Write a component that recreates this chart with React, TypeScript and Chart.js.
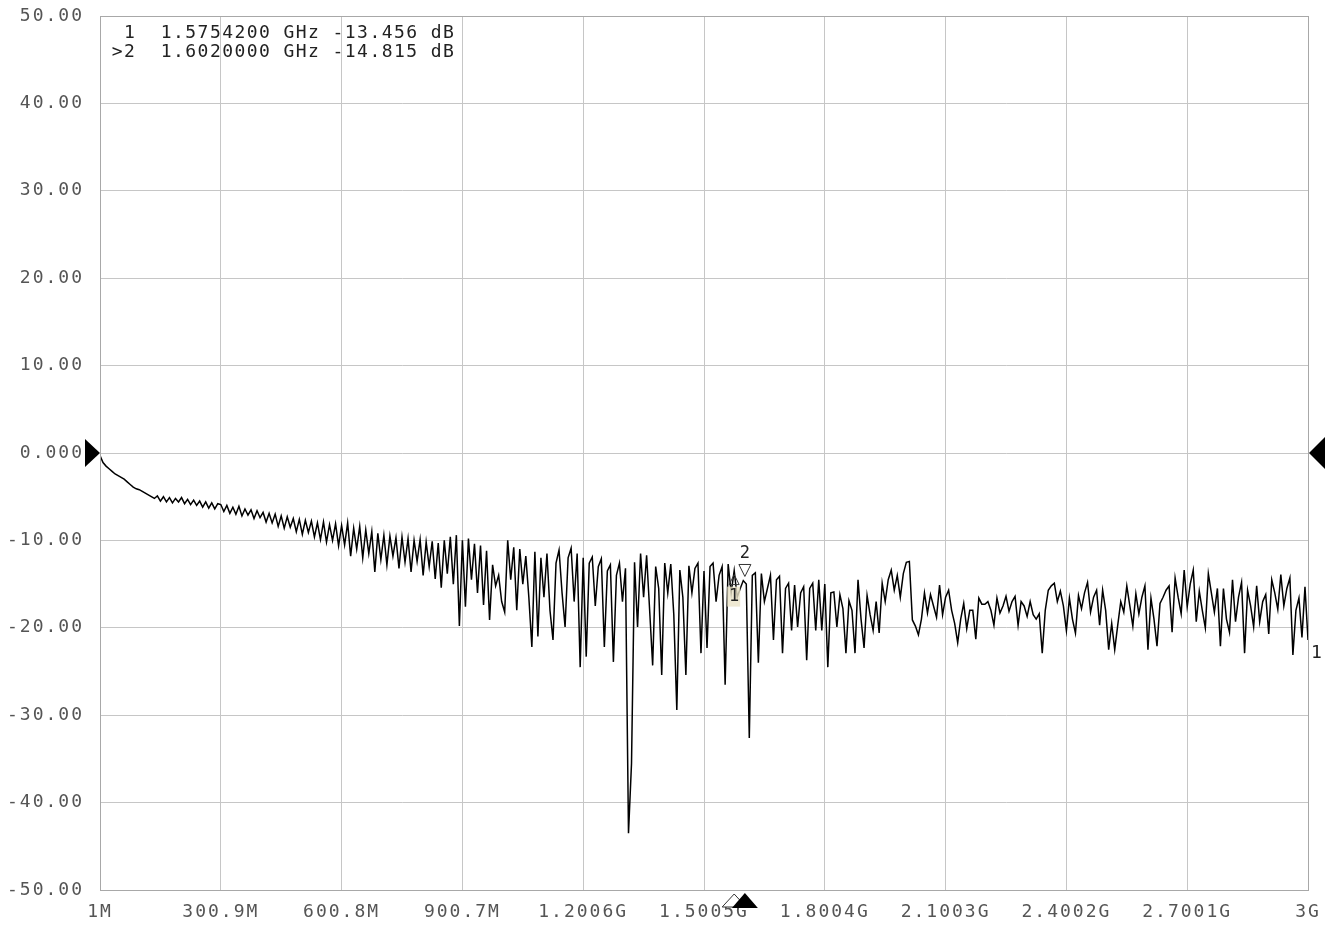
import React, { useEffect, useRef } from "react";
import { Chart, registerables } from "chart.js";

Chart.register(...registerables);

// Sweep settings (MHz)
const SWEEP_START_MHZ = 1;
const SWEEP_STOP_MHZ = 3000;

// Trace values in dB, 401 sweep points
const TRACE_DB: number[] = [
  // 1M .. 300.9M
  -0.3, -1.1, -1.5, -1.8, -2.1, -2.4, -2.6, -2.8, -3.0, -3.3,
  -3.6, -3.9, -4.1, -4.2, -4.4, -4.6, -4.8, -5.0, -5.2, -4.9,
  -5.5, -5.0, -5.6, -5.1, -5.7, -5.2, -5.6, -5.1, -5.8, -5.3,
  -5.9, -5.4, -6.0, -5.5, -6.2, -5.6, -6.3, -5.7, -6.4, -5.8,
  // 300.9M .. 600.8M
  -5.9, -6.7, -6.0, -6.9, -6.2, -7.0, -6.1, -7.2, -6.4, -7.1,
  -6.5, -7.5, -6.6, -7.4, -6.8, -7.9, -6.9, -8.0, -7.0, -8.4,
  -7.2, -8.6, -7.3, -8.5, -7.5, -9.0, -7.6, -9.3, -7.7, -9.1,
  -7.8, -9.6, -8.0, -9.9, -7.9, -10.2, -8.2, -10.0, -8.1, -10.6,
  // 600.8M .. 900.7M
  -8.3, -10.5, -8.0, -11.8, -8.6, -11.0, -8.4, -12.0, -8.8, -11.5,
  -9.0, -13.6, -9.2, -12.2, -9.4, -12.8, -9.5, -11.8, -9.7, -13.2,
  -9.6, -12.5, -9.8, -13.6, -10.0, -12.4, -9.9, -14.0, -10.2, -13.0,
  -10.1, -14.4, -10.3, -15.4, -10.0, -13.8, -9.6, -15.0, -9.4, -19.8,
  // 900.7M .. 1.2006G
  -10.0, -17.6, -9.8, -14.5, -10.4, -16.0, -10.6, -17.4, -11.2, -19.1,
  -12.8, -15.2, -14.0, -17.0, -18.2, -10.0, -14.5, -10.8, -18.0, -11.0,
  -15.0, -11.8, -16.5, -22.2, -11.3, -21.0, -12.0, -16.5, -11.5, -18.0,
  -21.4, -12.6, -11.1, -16.0, -19.9, -12.0, -10.9, -17.0, -11.5, -24.5,
  // 1.2006G .. 1.5005G
  -12.0, -23.3, -12.6, -11.9, -17.5, -13.0, -12.1, -22.2, -13.5, -12.8,
  -23.9, -14.0, -12.6, -17.0, -13.2, -43.5, -35.5, -12.5, -19.9, -11.5,
  -16.5, -11.7, -18.0, -24.3, -13.0, -15.5, -25.4, -12.6, -16.0, -12.7,
  -18.5, -29.4, -13.4, -16.5, -25.4, -12.9, -16.0, -13.2, -12.6, -22.9,
  // 1.5005G .. 1.8004G
  -13.5, -22.3, -13.0, -12.6, -17.0, -14.0, -13.0, -26.5, -12.7, -16.0,
  -13.456, -16.5, -15.5, -14.6, -15.0, -32.6, -14.0, -13.7, -24.0, -13.8,
  -17.0, -15.5, -14.0, -21.4, -14.5, -14.1, -22.9, -15.5, -14.9, -20.3,
  -15.1, -19.9, -16.0, -15.3, -23.7, -15.5, -14.9, -20.3, -14.5, -20.3,
  // 1.8004G .. 2.1003G
  -15.0, -24.5, -16.0, -15.9, -19.9, -16.2, -17.8, -22.9, -16.9, -18.0,
  -22.9, -14.5, -19.0, -22.3, -16.3, -18.5, -20.3, -17.0, -20.6, -14.9,
  -17.0, -14.5, -13.4, -15.7, -14.0, -16.5, -13.8, -12.5, -12.4, -19.1,
  -19.8, -20.8, -19.0, -16.0, -18.3, -16.2, -17.5, -18.8, -15.1, -18.5,
  // 2.1003G .. 2.4002G
  -16.5, -15.7, -18.0, -19.5, -21.7, -19.0, -17.2, -20.1, -18.0, -18.0,
  -21.3, -16.6, -17.3, -17.3, -17.0, -18.0, -19.7, -16.6, -18.3, -17.5,
  -16.4, -18.1, -17.0, -16.4, -19.7, -17.0, -17.5, -18.7, -17.0, -18.5,
  -19.0, -18.4, -22.9, -18.0, -15.7, -15.2, -14.9, -17.0, -15.8, -17.5,
  // 2.4002G .. 2.7001G
  -20.3, -16.6, -19.0, -20.6, -16.3, -17.8, -16.0, -14.8, -18.2, -16.5,
  -15.7, -19.7, -15.7, -18.0, -22.5, -19.5, -22.5, -19.7, -17.0, -18.2,
  -15.2, -17.5, -19.8, -16.1, -18.4, -16.5, -15.2, -22.5, -16.6, -19.0,
  -22.1, -17.2, -16.5, -15.7, -15.2, -20.5, -14.3, -16.5, -18.4, -13.4,
  // 2.7001G .. 3G
  -17.6, -15.0, -13.4, -19.3, -15.8, -18.0, -20.0, -13.8, -16.0, -18.2,
  -15.5, -22.1, -15.5, -19.0, -20.5, -14.5, -19.3, -16.5, -14.8, -22.9,
  -15.7, -17.5, -19.9, -15.2, -19.3, -17.0, -16.2, -20.7, -14.5, -16.0,
  -17.9, -13.9, -17.5, -15.5, -14.3, -23.1, -18.0, -16.6, -21.1, -15.3,
  -21.4,
];

// Axis ticks
const X_TICK_VALUES = [1, 300.9, 600.8, 900.7, 1200.6, 1500.5, 1800.4, 2100.3, 2400.2, 2700.1, 3000];
const X_TICK_LABELS = ["1M", "300.9M", "600.8M", "900.7M", "1.2006G", "1.5005G", "1.8004G", "2.1003G", "2.4002G", "2.7001G", "3G"];
const Y_TICK_VALUES = [-50, -40, -30, -20, -10, 0, 10, 20, 30, 40, 50];
const Y_TICK_LABELS = ["-50.00", "-40.00", "-30.00", "-20.00", "-10.00", "0.000", "10.00", "20.00", "30.00", "40.00", "50.00"];

// Markers
const MARKER_IDS = ["1", "2"];
const MARKER_FREQ_MHZ = [1575.42, 1602.0];
const MARKER_DB = [-13.456, -14.815];
const ACTIVE_MARKER = 1;
const REFERENCE_DB = 0;

const MONO = "'DejaVu Sans Mono', monospace";

const overlayPlugin = {
  id: "vnaOverlay",
  beforeDraw(chart: any) {
    (chart.ctx as any).letterSpacing = "2px";
  },
  afterDraw(chart: any) {
    const ctx: CanvasRenderingContext2D = chart.ctx;
    const xs = chart.scales.x;
    const ys = chart.scales.y;
    const a = chart.chartArea;
    ctx.save();
    (ctx as any).letterSpacing = "0px";

    // frame
    ctx.strokeStyle = "#a8a8a8";
    ctx.lineWidth = 1;
    ctx.strokeRect(Math.round(a.left) + 0.5, Math.round(a.top) + 0.5, Math.round(a.right - a.left), Math.round(a.bottom - a.top));

    // reference level triangles
    const y0 = ys.getPixelForValue(REFERENCE_DB);
    ctx.fillStyle = "#000";
    ctx.beginPath();
    ctx.moveTo(a.left, y0);
    ctx.lineTo(a.left - 15, y0 - 14);
    ctx.lineTo(a.left - 15, y0 + 14);
    ctx.closePath();
    ctx.fill();
    ctx.beginPath();
    ctx.moveTo(a.right + 1, y0);
    ctx.lineTo(a.right + 17, y0 - 16);
    ctx.lineTo(a.right + 17, y0 + 16);
    ctx.closePath();
    ctx.fill();

    // markers
    ctx.font = `17px ${MONO}`;
    ctx.textAlign = "center";
    ctx.textBaseline = "middle";
    MARKER_IDS.forEach((id, i) => {
      const px = xs.getPixelForValue(MARKER_FREQ_MHZ[i]);
      const py = ys.getPixelForValue(MARKER_DB[i]);
      const active = i === ACTIVE_MARKER;
      ctx.strokeStyle = "#333";
      ctx.lineWidth = 1;
      if (active) {
        ctx.beginPath();
        ctx.moveTo(px, py - 6);
        ctx.lineTo(px - 6, py - 18);
        ctx.lineTo(px + 6, py - 18);
        ctx.closePath();
        ctx.stroke();
        ctx.fillStyle = "#222";
        ctx.fillText(id, px, py - 29);
        // bottom indicator filled
        ctx.fillStyle = "#000";
        ctx.beginPath();
        ctx.moveTo(px, a.bottom + 3);
        ctx.lineTo(px - 13, a.bottom + 18);
        ctx.lineTo(px + 13, a.bottom + 18);
        ctx.closePath();
        ctx.fill();
      } else {
        ctx.fillStyle = "rgba(235,228,200,0.8)";
        ctx.fillRect(px - 7, py + 16, 13, 20);
        ctx.beginPath();
        ctx.moveTo(px, py + 4);
        ctx.lineTo(px - 5, py + 14);
        ctx.lineTo(px + 5, py + 14);
        ctx.closePath();
        ctx.stroke();
        ctx.fillStyle = "#222";
        ctx.fillText(id, px, py + 26);
        // bottom indicator hollow
        ctx.fillStyle = "#fff";
        ctx.beginPath();
        ctx.moveTo(px, a.bottom + 4);
        ctx.lineTo(px - 12, a.bottom + 17);
        ctx.lineTo(px + 12, a.bottom + 17);
        ctx.closePath();
        ctx.fill();
        ctx.stroke();
      }
    });

    // trace number at the right end
    const lastY = ys.getPixelForValue(TRACE_DB[TRACE_DB.length - 1]);
    ctx.fillStyle = "#222";
    ctx.font = `18px ${MONO}`;
    ctx.textAlign = "left";
    ctx.fillText("1", a.right + 3, lastY + 13);

    // marker readout, fixed pitch
    const pitch = 12.27;
    const startX = 111;
    ctx.font = `18px ${MONO}`;
    ctx.textAlign = "center";
    ctx.fillStyle = "#222";
    MARKER_IDS.forEach((id, i) => {
      const line = `${i === ACTIVE_MARKER ? ">" : " "}${id}  ${(MARKER_FREQ_MHZ[i] / 1000).toFixed(7)} GHz ${MARKER_DB[i].toFixed(3)} dB`;
      const yy = 33 + i * 19;
      for (let c = 0; c < line.length; c++) {
        if (line[c] !== " ") ctx.fillText(line[c], startX + c * pitch + pitch / 2, yy);
      }
    });

    ctx.restore();
    (ctx as any).letterSpacing = "0px";
  },
};

export default function App() {
  const ref = useRef<HTMLCanvasElement>(null);
  useEffect(() => {
    document.body.style.margin = "0";
    const n = TRACE_DB.length;
    const step = (SWEEP_STOP_MHZ - SWEEP_START_MHZ) / (n - 1);
    const points = TRACE_DB.map((v, i) => ({ x: SWEEP_START_MHZ + i * step, y: v }));
    const chart = new Chart(ref.current as HTMLCanvasElement, {
      type: "line",
      data: {
        datasets: [
          {
            data: points,
            borderColor: "#000",
            borderWidth: 1.5,
            pointRadius: 0,
            tension: 0,
            fill: false,
          },
        ],
      },
      options: {
        animation: false,
        responsive: false,
        devicePixelRatio: 1,
        layout: { padding: { top: 16, right: 27, left: 0, bottom: 0 } },
        plugins: { legend: { display: false }, tooltip: { enabled: false } },
        scales: {
          x: {
            type: "linear",
            min: SWEEP_START_MHZ,
            max: SWEEP_STOP_MHZ,
            afterBuildTicks: (scale: any) => {
              scale.ticks = X_TICK_VALUES.map((v) => ({ value: v }));
            },
            afterFit: (scale: any) => {
              scale.height = 38;
              scale.paddingLeft = 0;
              scale.paddingRight = 0;
            },
            grid: { color: "#c6c6c6", lineWidth: 1, drawTicks: false },
            border: { color: "#a8a8a8" },
            ticks: {
              autoSkip: false,
              maxRotation: 0,
              padding: 12,
              color: "#555",
              font: { family: MONO, size: 18 },
              callback: (_v: any, i: number) => X_TICK_LABELS[i],
            },
          },
          y: {
            type: "linear",
            min: -50,
            max: 50,
            afterBuildTicks: (scale: any) => {
              scale.ticks = Y_TICK_VALUES.map((v) => ({ value: v }));
            },
            afterFit: (scale: any) => {
              scale.width = 100;
              scale.paddingTop = 0;
              scale.paddingBottom = 0;
            },
            grid: { color: "#c6c6c6", lineWidth: 1, drawTicks: false },
            border: { color: "#a8a8a8" },
            ticks: {
              autoSkip: false,
              padding: 16,
              color: "#555",
              font: { family: MONO, size: 18 },
              callback: (_v: any, i: number) => Y_TICK_LABELS[i],
            },
          },
        },
      },
      plugins: [overlayPlugin],
    } as any);
    return () => chart.destroy();
  }, []);
  return (
    <div style={{ width: 1335, height: 928, background: "#fff" }}>
      <canvas ref={ref} width={1335} height={928} style={{ display: "block", width: 1335, height: 928 }} />
    </div>
  );
}
